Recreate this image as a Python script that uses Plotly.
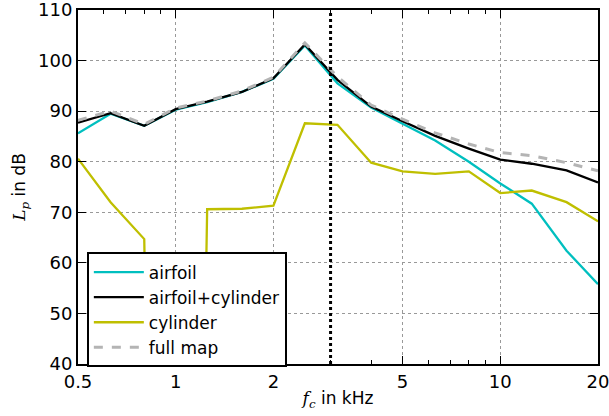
import plotly.graph_objects as go

freq = [0.5, 0.63, 0.8, 1.0, 1.25, 1.6, 2.0, 2.5, 3.15, 4.0, 5.0, 6.3, 8.0, 10.0, 12.5, 16.0, 20.0]
airfoil = [85.6, 89.5, 87.1, 90.3, 91.8, 93.8, 96.4, 103.0, 95.5, 90.7, 87.5, 84.2, 80.0, 75.7, 71.7, 62.4, 55.8]
airfoil_cyl = [87.7, 89.6, 87.1, 90.4, 91.9, 93.8, 96.5, 103.2, 96.2, 90.9, 88.0, 85.1, 82.6, 80.4, 79.6, 78.3, 75.9]
cylinder = [80.6, 72.0, 64.7, -300.0, 70.6, 70.7, 71.3, 87.6, 87.3, 79.8, 78.1, 77.6, 78.1, 73.8, 74.3, 72.0, 68.2]
full_map = [88.2, 90.0, 87.4, 90.6, 92.0, 94.0, 96.7, 103.5, 96.8, 91.2, 88.4, 85.7, 83.5, 81.8, 81.2, 79.8, 78.2]
marker_freq = [3.0, 3.0]
marker_lp = [40, 110]

fig = go.Figure()
fig.add_trace(go.Scatter(x=freq, y=airfoil, mode="lines", name="airfoil",
                         line=dict(color="#00bfbf", width=2.3)))
fig.add_trace(go.Scatter(x=freq, y=airfoil_cyl, mode="lines", name="airfoil+cylinder",
                         line=dict(color="black", width=2.3)))
fig.add_trace(go.Scatter(x=freq, y=cylinder, mode="lines", name="cylinder",
                         line=dict(color="#bfbf00", width=2.3)))
fig.add_trace(go.Scatter(x=freq, y=full_map, mode="lines", name="full map",
                         line=dict(color="#b4b4b4", width=3, dash="dash")))
fig.add_trace(go.Scatter(x=marker_freq, y=marker_lp, mode="lines", showlegend=False,
                         line=dict(color="black", width=3, dash="dot")))

fig.update_layout(
    width=609, height=416,
    margin=dict(l=78, r=11, t=10, b=52),
    paper_bgcolor="white", plot_bgcolor="white",
    font=dict(family="DejaVu Sans", size=18, color="black"),
    showlegend=True,
    legend=dict(x=0.017, y=0.315, xanchor="left", yanchor="top",
                bordercolor="black", borderwidth=2, bgcolor="white",
                font=dict(size=17), tracegroupgap=0, itemwidth=50),
    xaxis=dict(type="log", range=[-0.30103, 1.30103], automargin=False,
               ticklabeloverflow="allow",
               tickvals=[0.5, 1, 2, 5, 10, 20], ticktext=["0.5", "1", "2", "5", "10", "20"],
               ticks="inside", ticklen=8, tickwidth=1, tickcolor="black",
               showline=True, linecolor="black", linewidth=2, mirror="ticks",
               showgrid=True, gridcolor="#999999", griddash="dot", gridwidth=1,
               minor=dict(tickmode="array",
                          tickvals=[0.6, 0.7, 0.8, 0.9, 3, 4, 6, 7, 8, 9],
                          ticks="inside", ticklen=4, tickcolor="black", showgrid=False),
               zeroline=False,
               title=dict(text="<i style='font-family:DejaVu Serif'>f<sub>c</sub></i> in kHz",
                          standoff=2, font=dict(size=17))),
    yaxis=dict(range=[40, 110], tickvals=[40, 50, 60, 70, 80, 90, 100, 110], automargin=False,
               ticklabeloverflow="allow",
               ticks="inside", ticklen=8, tickwidth=1, tickcolor="black",
               showline=True, linecolor="black", linewidth=2, mirror="ticks",
               showgrid=True, gridcolor="#999999", griddash="dot", gridwidth=1,
               zeroline=False,
               title=dict(text="<i style='font-family:DejaVu Serif'>L<sub>p</sub></i> in dB",
                          standoff=8, font=dict(size=17))),
)

fig.write_html("out.html")
